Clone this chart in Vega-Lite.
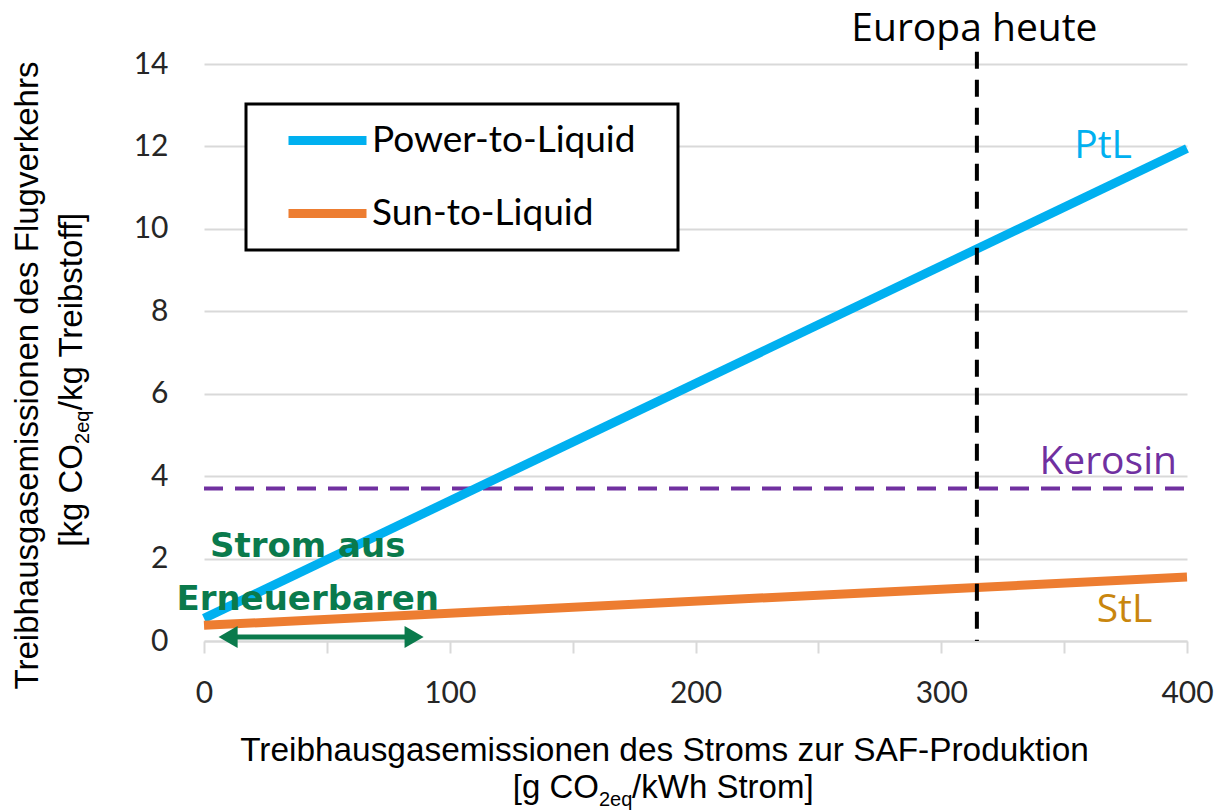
{
  "$schema": "https://vega.github.io/schema/vega-lite/v6.json",
  "width": 983,
  "height": 577,
  "autosize": "none",
  "padding": {"left": 204, "top": 64, "right": 33, "bottom": 169},
  "background": "white",
  "config": {"view": {"stroke": null}, "legend": {"strokeWidth": 3}},
  "layer": [
    {
      "data": {"values": [{"x": 0, "x2": 400, "y": 3.7}]},
      "mark": {"type": "rule", "color": "#7030A0", "strokeWidth": 4, "strokeDash": [19, 12]},
      "encoding": {
        "x": {
          "field": "x", "type": "quantitative",
          "scale": {"domain": [0, 400], "nice": false, "zero": false},
          "axis": {
            "title": "Treibhausgasemissionen des Stroms zur SAF-Produktion",
            "values": [0, 50, 100, 150, 200, 250, 300, 350, 400],
            "labelExpr": "datum.value % 100 === 0 ? datum.label : ''",
            "grid": false,
            "domainColor": "#d9d9d9", "domainWidth": 2,
            "tickColor": "#d9d9d9", "tickWidth": 2, "tickSize": 12,
            "labelFont": "Lato", "labelFontSize": 30, "labelColor": "#262626",
            "labelPadding": 25, "labelFlush": false, "labelOverlap": false,
            "titleFont": "Liberation Sans", "titleFontSize": 33.4, "titleFontWeight": "normal",
            "titleColor": "black", "titleX": 460, "titleY": 119,
            "titleBaseline": "alphabetic", "titleAlign": "center"
          }
        },
        "x2": {"field": "x2"},
        "y": {
          "field": "y", "type": "quantitative",
          "scale": {"domain": [0, 14], "nice": false, "zero": false},
          "axis": {
            "title": "Treibhausgasemissionen des Flugverkehrs",
            "values": [0, 2, 4, 6, 8, 10, 12, 14],
            "format": "d",
            "grid": true, "gridColor": "#d9d9d9", "gridWidth": 2,
            "domain": false, "ticks": false, "tickSize": 0,
            "labelFont": "Lato", "labelFontSize": 30, "labelColor": "#262626",
            "labelPadding": 36,
            "titleFont": "Liberation Sans", "titleFontSize": 33, "titleFontWeight": "normal",
            "titleColor": "black", "titleX": -167, "titleY": 311, "titleAngle": 270,
            "titleBaseline": "alphabetic", "titleAlign": "center"
          }
        }
      }
    },
    {
      "data": {"values": [
        {"series": "Power-to-Liquid", "x": 0, "y": 0.55},
        {"series": "Power-to-Liquid", "x": 400, "y": 11.95},
        {"series": "Sun-to-Liquid", "x": 0, "y": 0.38},
        {"series": "Sun-to-Liquid", "x": 400, "y": 1.55}
      ]},
      "mark": {"type": "line", "strokeWidth": 9, "strokeCap": "butt"},
      "encoding": {
        "x": {"field": "x", "type": "quantitative"},
        "y": {"field": "y", "type": "quantitative"},
        "color": {
          "field": "series", "type": "nominal",
          "scale": {"domain": ["Power-to-Liquid", "Sun-to-Liquid"], "range": ["#00B0F0", "#ED7D31"]},
          "legend": {
            "title": "\u00a0", "titleOrient": "right", "titlePadding": 25, "titleFontSize": 2,
            "orient": "none", "legendX": 42, "legendY": 40,
            "symbolType": "M-1,0H5", "symbolSize": 676, "symbolStrokeWidth": 9,
            "symbolOffset": 19, "labelOffset": 52,
            "labelFont": "Lato", "labelFontSize": 37, "labelColor": "black", "labelLimit": 500,
            "strokeColor": "black", "fillColor": "white", "padding": 18, "rowPadding": 35
          }
        }
      }
    },
    {
      "data": {"values": [{"x": 9.8, "x2": 85.5, "y": 0.1}]},
      "mark": {"type": "rule", "color": "#0a7a4c", "strokeWidth": 5},
      "encoding": {
        "x": {"field": "x", "type": "quantitative"},
        "x2": {"field": "x2"},
        "y": {"field": "y", "type": "quantitative"}
      }
    },
    {
      "data": {"values": [{"x": 9.8, "y": 0.1, "dir": "left"}, {"x": 85.5, "y": 0.1, "dir": "right"}]},
      "mark": {"type": "point", "filled": true, "color": "#0a7a4c", "size": 484, "opacity": 1},
      "encoding": {
        "x": {"field": "x", "type": "quantitative"},
        "y": {"field": "y", "type": "quantitative"},
        "shape": {"field": "dir", "type": "nominal", "scale": {"domain": ["left", "right"], "range": ["triangle-left", "triangle-right"]}, "legend": null}
      }
    },
    {
      "data": {"values": [{"x": 42.2, "y": 2.04, "label": "Strom aus"}, {"x": 42.2, "y": 0.75, "label": "Erneuerbaren"}]},
      "mark": {"type": "text", "font": "DejaVu Sans", "fontWeight": "bold", "fontSize": 34, "color": "#0a7a4c", "align": "center", "baseline": "alphabetic"},
      "encoding": {
        "x": {"field": "x", "type": "quantitative"},
        "y": {"field": "y", "type": "quantitative"},
        "text": {"field": "label"}
      }
    },
    {
      "data": {"values": [{"x": 377.6, "y": 11.73, "label": "PtL"}]},
      "mark": {"type": "text", "font": "Open Sans", "fontSize": 39, "color": "#00B0F0", "align": "right", "baseline": "alphabetic"},
      "encoding": {
        "x": {"field": "x", "type": "quantitative"},
        "y": {"field": "y", "type": "quantitative"},
        "text": {"field": "label"}
      }
    },
    {
      "data": {"values": [{"x": 395.9, "y": 4.05, "label": "Kerosin"}]},
      "mark": {"type": "text", "font": "Open Sans", "fontSize": 39, "color": "#7030A0", "align": "right", "baseline": "alphabetic"},
      "encoding": {
        "x": {"field": "x", "type": "quantitative"},
        "y": {"field": "y", "type": "quantitative"},
        "text": {"field": "label"}
      }
    },
    {
      "data": {"values": [{"x": 385.9, "y": 0.47, "label": "StL"}]},
      "mark": {"type": "text", "font": "Open Sans", "fontSize": 39, "color": "#C9860E", "align": "right", "baseline": "alphabetic"},
      "encoding": {
        "x": {"field": "x", "type": "quantitative"},
        "y": {"field": "y", "type": "quantitative"},
        "text": {"field": "label"}
      }
    },
    {
      "data": {"values": [{"x": 313.5, "y": 14.56, "label": "Europa heute"}]},
      "mark": {"type": "text", "font": "Open Sans", "fontSize": 39, "color": "black", "align": "center", "baseline": "alphabetic"},
      "encoding": {
        "x": {"field": "x", "type": "quantitative"},
        "y": {"field": "y", "type": "quantitative"},
        "text": {"field": "label"}
      }
    },
    {
      "data": {"values": [{"x": 314.5, "y": 14.3, "y2": 0}]},
      "mark": {"type": "rule", "color": "black", "strokeWidth": 4, "strokeDash": [17, 11]},
      "encoding": {
        "x": {"field": "x", "type": "quantitative"},
        "y": {"field": "y", "type": "quantitative"},
        "y2": {"field": "y2"}
      }
    },
    {
      "data": {"values": [{"x": 160.7, "y": -3.81, "label": "[g CO"}]},
      "mark": {"type": "text", "font": "Liberation Sans", "fontSize": 33, "color": "black", "align": "right", "baseline": "alphabetic"},
      "encoding": {
        "x": {"field": "x", "type": "quantitative"},
        "y": {"field": "y", "type": "quantitative"},
        "text": {"field": "label"}
      }
    },
    {
      "data": {"values": [{"x": 160.7, "y": -3.81, "label": "2eq"}]},
      "mark": {"type": "text", "font": "Liberation Sans", "fontSize": 20, "color": "black", "align": "left", "baseline": "alphabetic", "dy": 8},
      "encoding": {
        "x": {"field": "x", "type": "quantitative"},
        "y": {"field": "y", "type": "quantitative"},
        "text": {"field": "label"}
      }
    },
    {
      "data": {"values": [{"x": 174.2, "y": -3.81, "label": "/kWh Strom]"}]},
      "mark": {"type": "text", "font": "Liberation Sans", "fontSize": 33, "color": "black", "align": "left", "baseline": "alphabetic"},
      "encoding": {
        "x": {"field": "x", "type": "quantitative"},
        "y": {"field": "y", "type": "quantitative"},
        "text": {"field": "label"}
      }
    },
    {
      "data": {"values": [{"x": -49.64, "y": 4.78, "label": "[kg CO"}]},
      "mark": {"type": "text", "font": "Liberation Sans", "fontSize": 33, "color": "black", "align": "right", "baseline": "alphabetic", "angle": 270},
      "encoding": {
        "x": {"field": "x", "type": "quantitative"},
        "y": {"field": "y", "type": "quantitative"},
        "text": {"field": "label"}
      }
    },
    {
      "data": {"values": [{"x": -49.64, "y": 4.78, "label": "2eq"}]},
      "mark": {"type": "text", "font": "Liberation Sans", "fontSize": 20, "color": "black", "align": "left", "baseline": "alphabetic", "angle": 270, "dy": 7},
      "encoding": {
        "x": {"field": "x", "type": "quantitative"},
        "y": {"field": "y", "type": "quantitative"},
        "text": {"field": "label"}
      }
    },
    {
      "data": {"values": [{"x": -49.64, "y": 5.6, "label": "/kg Treibstoff]"}]},
      "mark": {"type": "text", "font": "Liberation Sans", "fontSize": 33, "color": "black", "align": "left", "baseline": "alphabetic", "angle": 270},
      "encoding": {
        "x": {"field": "x", "type": "quantitative"},
        "y": {"field": "y", "type": "quantitative"},
        "text": {"field": "label"}
      }
    }
  ]
}
